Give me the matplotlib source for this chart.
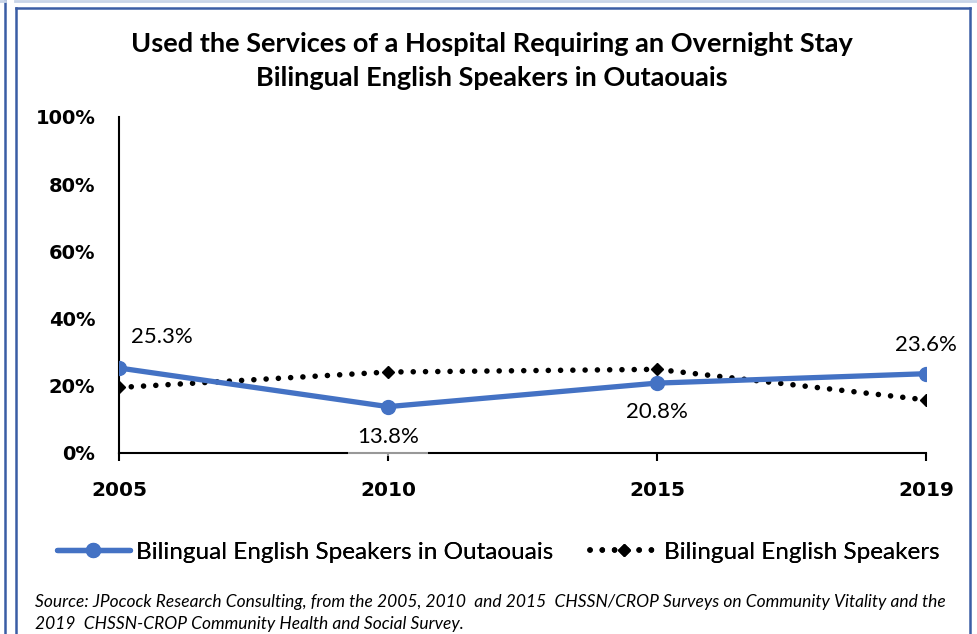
import matplotlib.pyplot as plt
from matplotlib.lines import Line2D

# Data
years = ['2005', '2010', '2015', '2019']
outaouais = [25.3, 13.8, 20.8, 23.6]
all_bilingual = [19.5, 24.1, 24.9, 15.8]
yticks = [0, 20, 40, 60, 80, 100]

TITLE = "Used the Services of a Hospital Requiring an Overnight Stay\nBilingual English Speakers in Outaouais"
SOURCE = ("Source: JPocock Research Consulting, from the 2005, 2010  and 2015  CHSSN/CROP Surveys on Community Vitality and the\n"
          "2019  CHSSN-CROP Community Health and Social Survey.")

BLUE = '#4472C4'
FRAME = '#3A5DA5'

plt.rcParams['font.family'] = ['Lato', 'DejaVu Sans']

W, H = 977, 634
fig = plt.figure(figsize=(W / 100, H / 100), dpi=100)
ax = fig.add_axes([119 / W, 1 - 453 / H, (926 - 119) / W, (453 - 117) / H])

x = list(range(len(years)))
l1, = ax.plot(x, outaouais, color=BLUE, lw=3.8, marker='o', ms=10,
              solid_capstyle='round', zorder=3)
l2, = ax.plot(x, all_bilingual, color='black', lw=4, linestyle=(0, (0.01, 2.2)),
              dash_capstyle='round', marker='D', ms=6, zorder=2)

ax.set_xlim(0, 3)
ax.set_ylim(0, 100)
ax.set_xticks(x)
ax.set_xticklabels(years)
ax.set_yticks(yticks)
ax.set_yticklabels([f'{v}%' for v in yticks])
ax.tick_params(axis='y', length=0, pad=17, labelsize=14)
ax.tick_params(axis='x', length=6, width=1.5, direction='out', pad=14, labelsize=14.5)
for t in ax.get_xticklabels() + ax.get_yticklabels():
    t.set_fontfamily('DejaVu Sans')
    t.set_fontweight('bold')
for s in ['top', 'right']:
    ax.spines[s].set_visible(False)
for s in ['left', 'bottom']:
    ax.spines[s].set_linewidth(1.5)
    ax.spines[s].set_color('black')

# data labels
offsets = [(31, 22), (0, -22), (0, -21), (0, 21)]
for i, (v, off) in enumerate(zip(outaouais, offsets)):
    bbox = None
    if i == 1:
        bbox = dict(boxstyle='square,pad=0.4', fc='white', ec='none', alpha=0.6)
    ax.annotate(f'{v}%', (i, v), xytext=off, textcoords='offset points',
                ha='center', va='center', fontsize=16,
                bbox=bbox, zorder=4, annotation_clip=False)

fig.text(492 / W, 1 - 61 / H, TITLE, ha='center', va='center', fontsize=19.5,
         fontweight='bold', linespacing=1.45)

# legend entries placed one by one
leg_y = 1 - 552 / H
for handle, label, x0, hl in [(l1, 'Bilingual English Speakers in Outaouais', 57, 73),
                              (l2, 'Bilingual English Speakers', 590, 68)]:
    lg = fig.legend([handle], [label], loc='center left',
                    bbox_to_anchor=(x0 / W, leg_y), frameon=False,
                    prop={'size': 17.5}, handlelength=hl / 1.389 / 17.5,
                    handletextpad=0.25, borderpad=0, borderaxespad=0)
    fig.add_artist(lg)

fig.text(35 / W, 1 - 613 / H, SOURCE, ha='left', va='center', fontsize=12.5,
         style='italic', linespacing=1.45)

# screenshot frame lines
fig.add_artist(Line2D([5 / W, 5 / W], [0, 1], color=FRAME, lw=1.8))
fig.add_artist(Line2D([0, 5 / W], [1 - 1 / H, 1 - 1 / H], color='#C8D4E8', lw=2))
fig.add_artist(Line2D([15 / W, 1], [1 - 1 / H, 1 - 1 / H], color='#C8D4E8', lw=2))
fig.add_artist(Line2D([16 / W, 16 / W], [0, 1 - 8 / H], color=FRAME, lw=1.8))
fig.add_artist(Line2D([16 / W, 970 / W], [1 - 8 / H, 1 - 8 / H], color=FRAME, lw=1.8))
fig.add_artist(Line2D([970 / W, 970 / W], [0, 1 - 8 / H], color=FRAME, lw=1.8))

fig.savefig('out.png', dpi=100)
